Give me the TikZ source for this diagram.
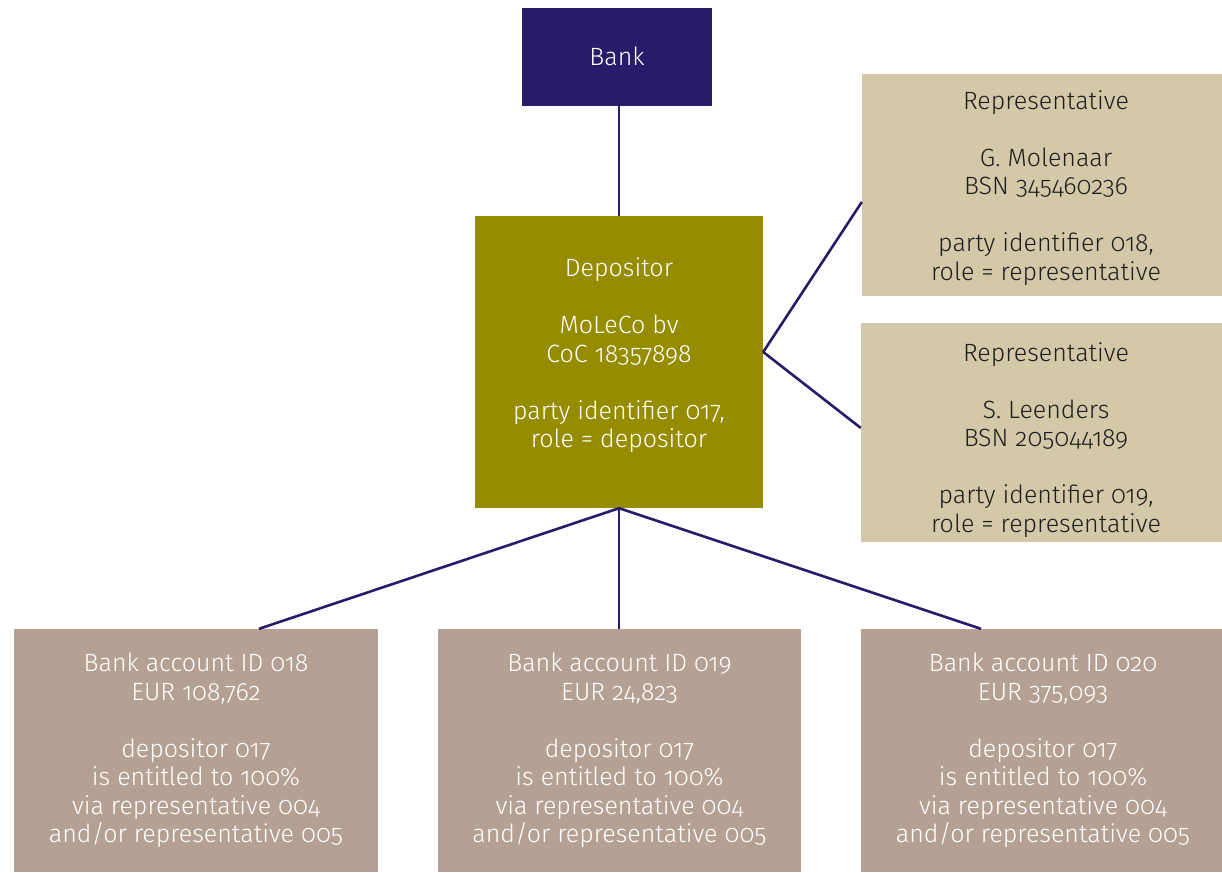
\documentclass[tikz,border=0pt]{standalone}
\usepackage{fontspec}
\setmainfont{Fira Sans Light}[Numbers=OldStyle]
\definecolor{bankc}{HTML}{291B69}
\definecolor{depc}{HTML}{968C00}
\definecolor{repc}{HTML}{D3C8A8}
\definecolor{accc}{HTML}{B5A193}
\definecolor{linec}{HTML}{291B69}
\definecolor{darktext}{HTML}{1E1E1E}
\tikzset{
  box/.style={rectangle, inner sep=0pt},
  txt/.style={inner sep=0pt, align=center, font=\fontsize{25}{28.5}\selectfont},
  conn/.style={draw=linec, line width=2.6pt},
}
\begin{document}
\begin{tikzpicture}[x=1pt,y=-1pt]
\useasboundingbox (0,0) rectangle (1222,872);
\node[box, fill=bankc, minimum width=190pt, minimum height=98pt] (bank) at (617,57) {};
\node[txt, text=white] (bankt) at (617,56) {Bank};
\node[box, fill=depc, minimum width=288pt, minimum height=292pt] (dep) at (619,362) {};
\node[txt, text=white] (dept) at (619,355.5)
  {Depositor\\[28.5pt]MoLeCo bv\\CoC 18357898\\[28.5pt]party identifier 017,\\role = depositor};
\node[box, fill=repc, minimum width=360pt, minimum height=222pt] (rep1) at (1042,185) {};
\node[txt, text=darktext] (rep1t) at (1046,188)
  {Representative\\[28.5pt]G. Molenaar\\BSN 345460236\\[28.5pt]party identifier 018,\\role = representative};
\node[box, fill=repc, minimum width=361pt, minimum height=219pt] (rep2) at (1041.5,432.5) {};
\node[txt, text=darktext] (rep2t) at (1046,440)
  {Representative\\[28.5pt]S. Leenders\\BSN 205044189\\[28.5pt]party identifier 019,\\role = representative};
\node[box, fill=accc, minimum width=364pt, minimum height=243pt] (a1) at (196,750.5) {};
\node[txt, text=white] (a1t) at (196,750.5)
  {Bank account ID 018\\EUR 108,762\\[28.5pt]depositor 017\\is entitled to 100\%\\via representative 004\\and/or representative 005};
\node[box, fill=accc, minimum width=363pt, minimum height=243pt] (a2) at (619.5,750.5) {};
\node[txt, text=white] (a2t) at (619.5,750.5)
  {Bank account ID 019\\EUR 24,823\\[28.5pt]depositor 017\\is entitled to 100\%\\via representative 004\\and/or representative 005};
\node[box, fill=accc, minimum width=361pt, minimum height=243pt] (a3) at (1041.5,750.5) {};
\node[txt, text=white] (a3t) at (1043,750.5)
  {Bank account ID 020\\EUR 375,093\\[28.5pt]depositor 017\\is entitled to 100\%\\via representative 004\\and/or representative 005};
\draw[conn] ([xshift=2pt]bank.south) -- (dep.north);
\draw[conn] ([yshift=10pt]dep.east) -- ([yshift=-17pt]rep1.west);
\draw[conn] ([yshift=10pt]dep.east) -- ([yshift=4.5pt]rep2.west);
\draw[conn] (dep.south) -- ([xshift=63pt]a1.north);
\draw[conn] (dep.south) -- ([xshift=-0.5pt]a2.north);
\draw[conn] (dep.south) -- ([xshift=-60.5pt]a3.north);
\end{tikzpicture}
\end{document}
